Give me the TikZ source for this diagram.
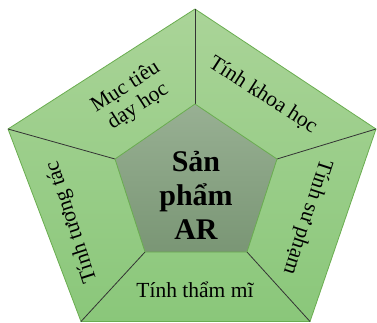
\documentclass[tikz,border=0pt]{standalone}
\usepackage{fontspec}
\setmainfont{Liberation Serif}
\usepackage{xcolor}
\usetikzlibrary{positioning, calc}

\definecolor{outertop}{RGB}{170,212,152}
\definecolor{outerbot}{RGB}{138,199,122}
\definecolor{innertop}{RGB}{152,176,147}
\definecolor{innerbot}{RGB}{122,150,117}
\definecolor{rimgreen}{RGB}{106,173,80}

\tikzset{
  segtext/.style={align=center, inner sep=1pt, font=\fontsize{21.5}{23}\selectfont},
  hubtext/.style={align=center, inner sep=1pt, font=\fontsize{30}{34}\selectfont\bfseries},
  divline/.style={draw=black!80, line width=0.8pt}
}

\begin{document}
\begin{tikzpicture}[x=1pt, y=1pt]
      \useasboundingbox (0,0) rectangle (377,322);

      % Outer and inner corners
      \coordinate (o1) at (195,313);
      \coordinate (o2) at (376,193);
      \coordinate (o3) at (310,0.5);
      \coordinate (o4) at (81,0.5);
      \coordinate (o5) at (8,193);
      \coordinate (i1) at (195,218);
      \coordinate (i2) at (277,163);
      \coordinate (i3) at (247,70);
      \coordinate (i4) at (145,70);
      \coordinate (i5) at (115,163);

      % Pentagons
      \shade[top color=outertop, bottom color=outerbot, draw=rimgreen, line width=0.8pt]
        (o1) -- (o2) -- (o3) -- (o4) -- (o5) -- cycle;
      \foreach \a in {1,...,5} {
        \draw[divline] (o\a) -- (i\a);
      }
      \shade[top color=innertop, bottom color=innerbot, draw=rimgreen, line width=0.8pt]
        (i1) -- (i2) -- (i3) -- (i4) -- (i5) -- cycle;

      % Labels
      \node[hubtext] (hub) at (196,127) {Sản\\phẩm\\AR};
      \node[segtext, rotate=32.7] (muctieu) at (132,225) {Mục tiêu\\dạy học};
      \node[segtext, rotate=-32.7] (khoahoc) at (263,227) {Tính khoa học};
      \node[segtext, rotate=-108] (supham) at (307,105) {Tính sư phạm};
      \node[segtext, rotate=108] (tuongtac) at (72,100) {Tính tương tác};
      \node[segtext] (thammi) at (195,32) {Tính thẩm mĩ};
\end{tikzpicture}
\end{document}
